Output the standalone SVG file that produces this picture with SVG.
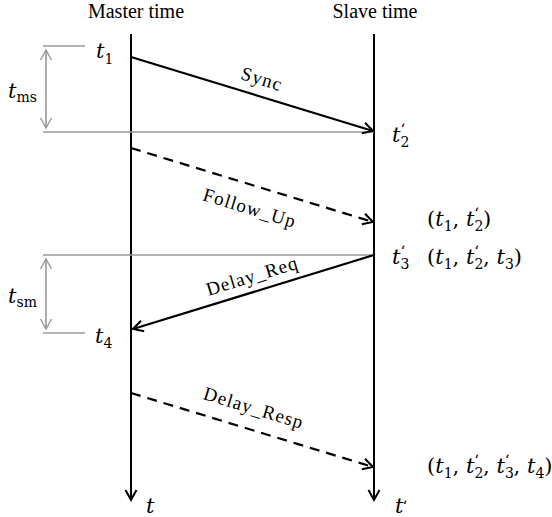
<svg xmlns="http://www.w3.org/2000/svg" width="552" height="517" viewBox="0 0 552 517">
<style>
.title{font-family:"Liberation Serif",serif;font-size:20px;fill:#000}
.lbl{font-family:"Liberation Serif",serif;font-size:19px;letter-spacing:1.1px;fill:#000}
.m{font-family:"DejaVu Serif",serif;font-style:italic;font-size:21px;fill:#000}
.sub{font-style:normal;font-size:14px}
.rm{font-style:normal}
.pr{font-style:normal;font-size:15px}
.axis{stroke:#000;stroke-width:2;fill:none}
.msg{stroke:#000;stroke-width:2.2;fill:none}
.dash{stroke-dasharray:10,7}
.gray{stroke:#999;stroke-width:1.6;fill:none}
</style>
<defs>
<marker id="ah" markerWidth="14" markerHeight="14" refX="12" refY="7" orient="auto" markerUnits="userSpaceOnUse">
<polyline points="2,1.5 12,7 2,12.5" fill="none" stroke="#000" stroke-width="2"/>
</marker>
<marker id="gh" markerWidth="14" markerHeight="14" refX="12" refY="7" orient="auto-start-reverse" markerUnits="userSpaceOnUse">
<polyline points="2,1.5 12,7 2,12.5" fill="none" stroke="#999" stroke-width="1.4"/>
</marker>
</defs>

<g id="master">
<text class="title" x="136" y="18" text-anchor="middle">Master time</text>
<line class="axis" x1="131" y1="34" x2="131" y2="500" marker-end="url(#ah)"/>
<text class="m" x="146" y="513">t</text>
</g>
<g id="slave">
<text class="title" x="375" y="18" text-anchor="middle">Slave time</text>
<line class="axis" x1="374" y1="34" x2="374" y2="500" marker-end="url(#ah)"/>
<text class="m" x="395" y="513">t<tspan class="pr" dx="-1" dy="-2">ʻ</tspan></text>
</g>

<g id="guides">
<line class="gray" x1="43" y1="46" x2="85" y2="46"/>
<line class="gray" x1="43" y1="132" x2="374" y2="132"/>
<line class="gray" x1="46" y1="50" x2="46" y2="128" marker-start="url(#gh)" marker-end="url(#gh)"/>
<line class="gray" x1="43" y1="255" x2="374" y2="255"/>
<line class="gray" x1="43" y1="333" x2="85" y2="333"/>
<line class="gray" x1="46" y1="259" x2="46" y2="329" marker-start="url(#gh)" marker-end="url(#gh)"/>
</g>

<g id="labels">
<text class="m" x="96" y="58">t<tspan class="sub" dy="6">1</tspan></text>
<text class="m" x="8" y="98">t<tspan class="sub" dy="4">ms</tspan></text>
<text class="m" x="392" y="142">t<tspan class="sub" dy="5">2</tspan><tspan class="pr" dx="-9" dy="-13">ʻ</tspan></text>
<text class="m" x="427" y="226"><tspan class="rm">(</tspan>t<tspan class="sub" dy="5">1</tspan><tspan class="rm" dy="-5">, </tspan>t<tspan class="sub" dy="5">2</tspan><tspan class="pr" dx="-9" dy="-13">ʻ</tspan><tspan class="rm" dx="4" dy="8">)</tspan></text>
<text class="m" x="392" y="264">t<tspan class="sub" dy="5">3</tspan><tspan class="pr" dx="-9" dy="-13">ʻ</tspan></text>
<text class="m" x="427" y="264"><tspan class="rm">(</tspan>t<tspan class="sub" dy="5">1</tspan><tspan class="rm" dy="-5">, </tspan>t<tspan class="sub" dy="5">2</tspan><tspan class="pr" dx="-9" dy="-13">ʻ</tspan><tspan class="rm" dx="4" dy="8">, </tspan>t<tspan class="sub" dy="5">3</tspan><tspan class="rm" dy="-5">)</tspan></text>
<text class="m" x="8" y="303">t<tspan class="sub" dy="4">sm</tspan></text>
<text class="m" x="95" y="343">t<tspan class="sub" dy="5">4</tspan></text>
<text class="m" x="427" y="473"><tspan class="rm">(</tspan>t<tspan class="sub" dy="5">1</tspan><tspan class="rm" dy="-5">, </tspan>t<tspan class="sub" dy="5">2</tspan><tspan class="pr" dx="-9" dy="-13">ʻ</tspan><tspan class="rm" dx="4" dy="8">, </tspan>t<tspan class="sub" dy="5">3</tspan><tspan class="pr" dx="-9" dy="-13">ʻ</tspan><tspan class="rm" dx="4" dy="8">, </tspan>t<tspan class="sub" dy="5">4</tspan><tspan class="rm" dy="-5">)</tspan></text>
</g>

<g id="connectors">
<line class="msg" x1="131" y1="57" x2="373" y2="131" marker-end="url(#ah)"/>
<line class="msg dash" x1="131" y1="148" x2="373" y2="222" marker-end="url(#ah)"/>
<line class="msg" x1="374" y1="255" x2="133" y2="329" marker-end="url(#ah)"/>
<line class="msg dash" x1="131" y1="393" x2="373" y2="467" marker-end="url(#ah)"/>
<text class="lbl" transform="translate(260,85) rotate(17)" text-anchor="middle">Sync</text>
<text class="lbl" transform="translate(248,214) rotate(17)" text-anchor="middle">Follow_Up</text>
<text class="lbl" transform="translate(254,282) rotate(-17)" text-anchor="middle">Delay_Req</text>
<text class="lbl" transform="translate(252,414) rotate(17)" text-anchor="middle">Delay_Resp</text>
</g>
</svg>
